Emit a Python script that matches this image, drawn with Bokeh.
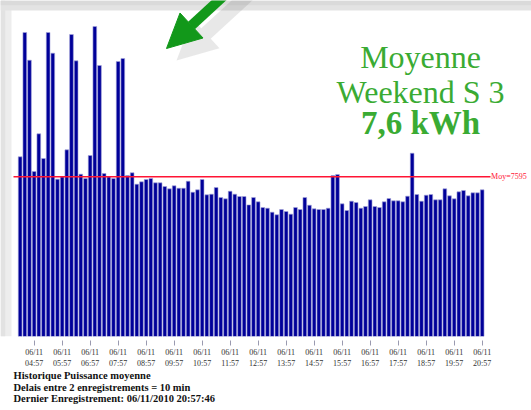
from bokeh.plotting import figure
from bokeh.models import Range1d, FixedTicker, Label, Arrow, NormalHead, Title, BoxAnnotation
from bokeh.embed import file_html
from bokeh.resources import INLINE

# ---- data (average power per 10-minute record, W) ----
day = "06/11"
first_time = "04:27"
step_min = 10
values = [
    8547, 14458, 13141, 7847, 9640, 8466, 14458, 13475, 7483, 7595,
    8878, 14363, 13110, 7720, 7514, 8608, 14744, 12889, 7752, 7595,
    7514, 13079, 13222, 7657, 7786, 7244, 7357, 7467, 7514, 7309,
    7309, 7134, 7024, 7167, 7053, 7053, 7386, 6863, 6977, 7467,
    6739, 6770, 7086, 6611, 6548, 6910, 6770, 6658, 6658, 6260,
    6611, 6405, 6135, 6103, 5913, 5790, 6040, 5945, 5820, 6135,
    6040, 6611, 6245, 6072, 6040, 6040, 6103, 7657, 7705, 6310,
    5993, 6437, 6373, 6103, 6183, 6500, 6183, 6135, 6405, 6563,
    6452, 6452, 6405, 6674, 8718, 6754, 6437, 6722, 6754, 6500,
    6500, 7024, 6690, 6547, 6880, 6944, 6690, 6832, 6832, 6975,
]
average = 7595
headline = ["Moyenne", "Weekend S 3", "7,6 kWh"]
footer = [
    "Historique Puissance moyenne",
    "Delais entre 2 enregistrements = 10 min",
    "Dernier Enregistrement: 06/11/2010 20:57:46",
]

# ---- derived ----
h0, m0 = map(int, first_time.split(":"))
times = []
for i in range(len(values)):
    t = h0 * 60 + m0 + i * step_min
    times.append((t // 60, t % 60))
idx = list(range(len(values)))
tick_idx = [i for i, (h, m) in enumerate(times) if m == 57]
tick_labels = {i: f"{day}\n{times[i][0]:02d}:{times[i][1]:02d}" for i in tick_idx}

SERIF = "Liberation Serif"
GREEN = "#3aab33"
RED = "#ff1434"

p = figure(width=531, height=410, output_backend="svg", toolbar_location=None,
           x_range=Range1d(-4.207, 109.57), y_range=Range1d(0, 15980),
           min_border_left=0, min_border_right=0, min_border_top=0,
           min_border_bottom=74)
p.outline_line_color = None
p.grid.visible = False
p.yaxis.visible = False
p.border_fill_color = "white"

# page shadow strips
p.add_layout(BoxAnnotation(right=-1.85, fill_color="#ededed", fill_alpha=1, line_color=None))
p.add_layout(BoxAnnotation(right=-3.2, fill_color="#e2e2e2", fill_alpha=1, line_color=None))
p.add_layout(BoxAnnotation(bottom=15500, fill_color="#e3e3e3", fill_alpha=1, line_color=None))
p.add_layout(BoxAnnotation(bottom=15750, fill_color="#dadada", fill_alpha=1, line_color=None))

p.vbar(x=idx, top=values, width=0.8, bottom=0,
       fill_color="#000099", line_color="#a8a8dc", line_width=0.6)

xa = p.xaxis[0]
xa.ticker = FixedTicker(ticks=tick_idx)
xa.major_label_overrides = tick_labels
xa.axis_line_color = None
xa.major_tick_in = -4
xa.major_tick_out = 9
xa.major_tick_line_color = "#9a9ab0"
xa.minor_tick_line_color = None
xa.major_label_standoff = 2
xa.major_label_text_font = SERIF
xa.major_label_text_font_size = "8px"
xa.major_label_text_line_height = 1.3
xa.major_label_text_color = "#333333"

# average line
p.segment(x0=[min(idx) - 1.42], x1=[max(idx) + 1.79], y0=[average], y1=[average],
          line_color=RED, line_width=1.5)
p.add_layout(Label(x=max(idx) + 1.9, y=average, text=f"Moy={average}",
                   text_font=SERIF, text_font_size="8px",
                   text_color=RED, text_baseline="middle"))

# decorative arrow with soft shadow
p.add_layout(Arrow(end=NormalHead(size=40, fill_color="#444444", fill_alpha=0.12,
                                  line_color=None),
                   x_start=49.4, y_start=16360, x_end=33.5, y_end=13126,
                   line_width=14, line_color="#444444", line_alpha=0.12))
p.add_layout(Arrow(end=NormalHead(size=34, fill_color="#12981a", line_color="#12981a"),
                   x_start=47.2, y_start=16931, x_end=31.36, y_end=13697,
                   line_width=10, line_color="#12981a"))

# headline
for txt, y, size, bold in [(headline[0], 13300, "32px", False),
                           (headline[1], 11640, "32px", False),
                           (headline[2], 10170, "33px", True)]:
    p.add_layout(Label(x=85.8, y=y, text=txt, text_font=SERIF,
                       text_font_size=size, text_color=GREEN,
                       text_align="center", text_baseline="alphabetic",
                       text_font_style="bold" if bold else "normal"))

# footer
p.add_layout(Title(text="\n".join(footer), align="left", offset=13, standoff=-6,
                   text_font=SERIF, text_font_size="10.5px", text_font_style="bold",
                   text_color="#111111", text_line_height=1.05), "below")

open("out.html", "w").write(file_html(p, INLINE))
